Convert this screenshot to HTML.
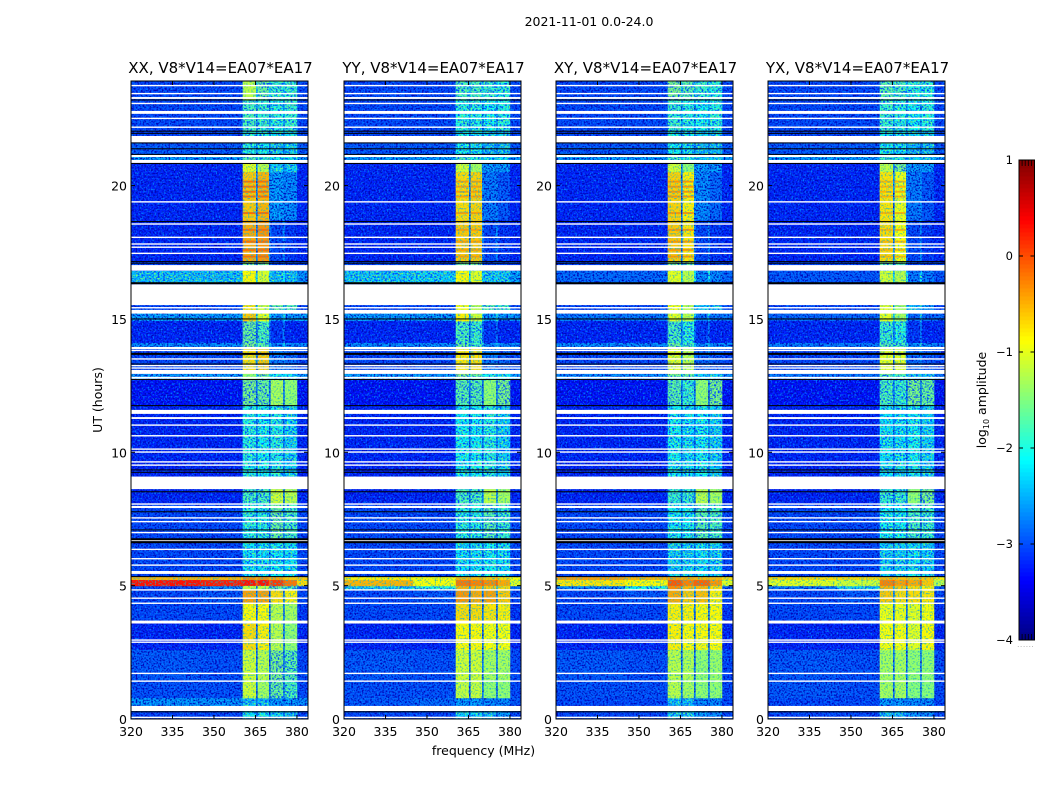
<!DOCTYPE html>
<html>
<head>
<meta charset="utf-8">
<title>2021-11-01 spectrogram panels</title>
<style>
html,body{margin:0;padding:0;background:#fff;}
svg{display:block;}
text{font-family:"DejaVu Sans","Liberation Sans",sans-serif;fill:#000;}
</style>
</head>
<body>
<svg id="figure" width="1050" height="800" viewBox="0 0 1050 800" xmlns="http://www.w3.org/2000/svg">
  <defs>
    <filter id="low-speckle" x="0" y="0" width="100%" height="100%" color-interpolation-filters="sRGB">
      <feTurbulence type="fractalNoise" baseFrequency="0.62 0.55" numOctaves="1" seed="7" result="n1"/>
      <feColorMatrix in="n1" type="matrix" values="0 0 0 0 0  0 0 0 0 0.5  0 0 0 0 1  4 0 0 0 -2.05" result="light"/>
      <feTurbulence type="fractalNoise" baseFrequency="0.58 0.6" numOctaves="1" seed="23" result="n2"/>
      <feColorMatrix in="n2" type="matrix" values="0 0 0 0 0  0 0 0 0 0.02  0 0 0 0 0.72  0 4 0 0 -1.75" result="dark"/>
      <feComposite in="light" in2="SourceAlpha" operator="in" result="lightIn"/>
      <feComposite in="dark" in2="SourceAlpha" operator="in" result="darkIn"/>
      <feMerge><feMergeNode in="SourceGraphic"/><feMergeNode in="darkIn"/><feMergeNode in="lightIn"/></feMerge>
    </filter>
    <filter id="mid-speckle" x="0" y="0" width="100%" height="100%" color-interpolation-filters="sRGB">
      <feTurbulence type="fractalNoise" baseFrequency="0.55 0.6" numOctaves="1" seed="31" result="n1"/>
      <feColorMatrix in="n1" type="matrix" values="0 0 0 0 0  0 0 0 0 0.3  0 0 0 0 1  4.5 0 0 0 -1.95" result="blue"/>
      <feColorMatrix in="n1" type="matrix" values="0 0 0 0 0.45  0 0 0 0 1  0 0 0 0 0.45  0 4 0 0 -2.0" result="green"/>
      <feComposite in="blue" in2="SourceAlpha" operator="in" result="blueIn"/>
      <feComposite in="green" in2="SourceAlpha" operator="in" result="greenIn"/>
      <feMerge><feMergeNode in="SourceGraphic"/><feMergeNode in="blueIn"/><feMergeNode in="greenIn"/></feMerge>
    </filter>
    <filter id="bright-speckle" x="0" y="0" width="100%" height="100%" color-interpolation-filters="sRGB">
      <feTurbulence type="fractalNoise" baseFrequency="0.6 0.6" numOctaves="1" seed="11" result="n1"/>
      <feColorMatrix in="n1" type="matrix" values="0 0 0 0 0.1  0 0 0 0 0.7  0 0 0 0 0.8  3 0 0 0 -1.45" result="cool"/>
      <feComposite in="cool" in2="SourceAlpha" operator="in" result="coolIn"/>
      <feMerge><feMergeNode in="SourceGraphic"/><feMergeNode in="coolIn"/></feMerge>
    </filter>
  </defs>
  <text x="589" y="26" font-size="12.5" text-anchor="middle">2021-11-01 0.0-24.0</text>
  <text x="483.5" y="755" font-size="12.5" text-anchor="middle">frequency (MHz)</text>
  <text transform="translate(102,400) rotate(-90)" font-size="12.5" text-anchor="middle">UT (hours)</text>
  <text transform="translate(986,400) rotate(-90)" font-size="12.5" text-anchor="middle">log<tspan font-size="8" dy="3">10</tspan><tspan dy="-3"> amplitude</tspan></text>
  <g id="panels"></g>
  <g id="colorbar"></g>
</svg>
<script>
// ---- Tick labels and categories ----
const panelTitles = ["XX, V8*V14=EA07*EA17", "YY, V8*V14=EA07*EA17", "XY, V8*V14=EA07*EA17", "YX, V8*V14=EA07*EA17"];
const freqTicks = [320, 335, 350, 365, 380];
const hourTicks = [0, 5, 10, 15, 20];
const colorTicks = [1, 0, -1, -2, -3, -4];

// ---- Frequency channel groups (MHz): bgL, bgR, A, gap, B, gap, C, gap, D, bgEnd ----
const freqEdges = [320, 345, 360.4, 365.1, 365.8, 369.8, 370.5, 374.9, 375.6, 380, 384];

// ---- Time blocks (UT hours, top to bottom) ----
const hourEdges = [23.93, 23.21, 22.05, 21.6, 21.15, 20.96, 20.51, 18.71, 17.14, 16.8, 16.35, 15.52, 15.22, 14.92, 14.1, 13.95, 13.84, 12.94, 12.71, 11.77, 9.07, 8.62, 8.06, 6.71, 5.32, 5.21, 4.99, 4.84, 4.35, 3.64, 2.59, 1.46, 0.79, 0.49, 0.3, 0];

// ---- log10 amplitude per block: [bgL, bgR, A, B, C, D, bgEnd] ----
const xxValues = [
[-3.0,-3.0,-1.2,-1.6,-1.9,-1.9,-3.0],[-3.0,-3.0,-1.8,-1.9,-2.0,-1.9,-3.0],[-3.0,-3.0,-2.0,-2.0,-2.2,-2.2,-3.0],[-2.9,-2.9,-2.0,-2.1,-2.3,-2.3,-2.9],
[-2.5,-2.5,-1.7,-1.9,-2.1,-2.1,-2.5],[-3.2,-3.2,-1.0,-1.2,-2.3,-2.3,-3.2],[-3.2,-3.2,-0.6,-0.5,-2.5,-2.6,-3.2],[-3.2,-3.2,-0.45,-0.35,-3.0,-3.1,-3.2],
[-3.0,-3.0,-1.5,-1.5,-3.0,-3.0,-3.0],[-2.4,-2.4,-0.85,-1.05,-2.4,-2.4,-2.55],[-3.0,-3.0,-3.0,-3.0,-3.0,-3.0,-3.0],[-3.0,-3.0,-0.75,-1.1,-1.6,-1.7,-3.0],
[-2.5,-2.5,-0.6,-1.0,-2.5,-2.5,-2.5],[-3.2,-3.2,-1.6,-1.8,-3.1,-3.2,-3.2],[-2.6,-2.6,-1.5,-1.7,-2.6,-2.6,-2.6],[-3.0,-3.0,-0.7,-0.6,-2.7,-2.8,-3.0],
[-3.0,-3.0,-0.7,-0.6,-2.7,-2.8,-3.0],[-2.5,-2.5,-1.4,-1.6,-2.1,-2.2,-2.5],[-3.3,-3.3,-1.5,-1.6,-1.3,-1.4,-3.3],[-3.2,-3.2,-2.0,-2.1,-2.0,-2.3,-3.2],
[-3.2,-3.2,-2.0,-2.0,-2.0,-2.0,-3.2],[-3.2,-3.2,-1.8,-1.8,-1.1,-1.2,-3.2],[-3.0,-3.0,-2.0,-2.0,-1.6,-1.8,-3.0],[-3.0,-3.0,-2.2,-2.2,-2.1,-2.2,-3.0],
[-0.5,-0.5,-0.3,-0.3,-0.4,-0.6,-0.6],[0.3,0.25,0.3,0.3,0.1,-0.2,-0.7],[-3.0,-2.6,-1.2,-1.2,-1.6,-1.8,-3.0],[-3.0,-2.9,-0.4,-0.4,-0.7,-0.8,-3.0],
[-3.0,-3.0,-0.85,-0.85,-1.2,-1.3,-3.1],[-3.2,-3.2,-0.7,-0.8,-1.2,-1.4,-3.2],[-2.9,-2.95,-1.1,-1.2,-1.5,-1.7,-3.0],[-2.95,-2.95,-1.1,-1.3,-1.6,-1.8,-3.0],
[-2.55,-2.55,-2.4,-2.4,-2.5,-2.5,-2.6],[-3.0,-3.0,-3.0,-3.0,-3.0,-3.0,-3.0],[-3.0,-3.0,-2.2,-2.2,-2.3,-2.4,-3.0]];
const yyValues = [
[-3.0,-3.0,-1.8,-1.8,-1.9,-2.0,-3.0],[-3.0,-3.0,-2.0,-2.0,-2.1,-2.0,-3.0],[-3.0,-3.0,-2.1,-2.1,-2.3,-2.3,-3.0],[-2.9,-2.9,-2.1,-2.2,-2.4,-2.4,-2.9],
[-2.5,-2.5,-1.8,-2.0,-2.2,-2.2,-2.5],[-3.2,-3.2,-1.1,-1.3,-2.5,-2.5,-3.2],[-3.2,-3.2,-0.7,-0.65,-2.7,-2.9,-3.2],[-3.2,-3.2,-0.6,-0.6,-3.0,-3.1,-3.2],
[-3.0,-3.0,-1.5,-1.5,-3.0,-3.0,-3.0],[-2.35,-2.3,-0.85,-1.0,-2.35,-2.35,-2.45],[-3.0,-3.0,-3.0,-3.0,-3.0,-3.0,-3.0],[-3.0,-3.0,-0.9,-1.2,-1.7,-1.8,-3.0],
[-2.5,-2.5,-0.8,-1.1,-2.5,-2.5,-2.5],[-3.2,-3.2,-1.8,-1.9,-3.1,-3.2,-3.2],[-2.6,-2.6,-1.6,-1.8,-2.6,-2.6,-2.6],[-3.0,-3.0,-0.75,-0.7,-2.7,-2.8,-3.0],
[-3.0,-3.0,-0.75,-0.7,-2.7,-2.8,-3.0],[-2.5,-2.5,-1.5,-1.7,-2.1,-2.2,-2.5],[-3.3,-3.3,-1.7,-1.7,-1.4,-1.5,-3.3],[-3.2,-3.2,-2.1,-2.1,-2.0,-2.3,-3.2],
[-3.2,-3.2,-2.0,-2.0,-2.0,-2.0,-3.2],[-3.2,-3.2,-1.8,-1.8,-1.2,-1.3,-3.2],[-3.0,-3.0,-2.0,-2.0,-1.7,-1.9,-3.0],[-3.0,-3.0,-2.2,-2.2,-2.1,-2.2,-3.0],
[-0.8,-0.9,-0.5,-0.5,-0.6,-0.7,-0.9],[-0.5,-0.9,-0.2,-0.25,-0.3,-0.45,-1.0],[-2.3,-2.0,-0.5,-0.5,-0.6,-0.7,-2.8],[-3.0,-2.9,-0.35,-0.45,-0.4,-0.6,-3.0],
[-3.0,-3.0,-0.7,-0.7,-0.75,-0.8,-3.1],[-3.2,-3.2,-0.85,-0.85,-0.9,-0.9,-3.2],[-2.9,-2.95,-1.1,-1.1,-1.3,-1.3,-3.0],[-2.95,-2.95,-1.15,-1.15,-1.4,-1.4,-3.0],
[-2.9,-2.8,-2.5,-2.5,-2.6,-2.6,-2.9],[-3.0,-3.0,-3.0,-3.0,-3.0,-3.0,-3.0],[-3.0,-3.0,-2.3,-2.3,-2.4,-2.5,-3.0]];
const xyValues = [
[-3.0,-3.0,-1.5,-1.7,-1.9,-2.0,-3.0],[-3.0,-3.0,-1.9,-2.0,-2.1,-2.0,-3.0],[-3.0,-3.0,-2.1,-2.1,-2.3,-2.3,-3.0],[-2.9,-2.9,-2.1,-2.2,-2.4,-2.4,-2.9],
[-2.5,-2.5,-1.8,-2.0,-2.3,-2.3,-2.5],[-3.2,-3.2,-1.1,-1.4,-2.5,-2.5,-3.2],[-3.2,-3.2,-0.65,-0.8,-2.6,-2.8,-3.2],[-3.2,-3.2,-0.6,-0.75,-3.0,-3.1,-3.2],
[-3.0,-3.0,-1.5,-1.6,-3.0,-3.0,-3.0],[-2.8,-2.8,-1.0,-1.2,-2.6,-2.6,-2.8],[-3.0,-3.0,-3.0,-3.0,-3.0,-3.0,-3.0],[-3.0,-3.0,-0.9,-1.2,-2.3,-2.4,-3.0],
[-2.7,-2.7,-1.0,-1.2,-2.7,-2.7,-2.7],[-3.2,-3.2,-1.8,-2.0,-3.1,-3.2,-3.2],[-2.6,-2.6,-1.6,-1.8,-2.6,-2.6,-2.6],[-3.0,-3.0,-1.0,-1.2,-2.8,-2.9,-3.0],
[-3.0,-3.0,-1.0,-1.2,-2.8,-2.9,-3.0],[-2.6,-2.6,-1.6,-1.7,-2.3,-2.3,-2.6],[-3.3,-3.3,-1.7,-1.9,-1.4,-1.5,-3.3],[-3.2,-3.2,-2.1,-2.2,-2.1,-2.3,-3.2],
[-3.2,-3.2,-2.0,-2.0,-2.0,-2.0,-3.2],[-3.2,-3.2,-1.9,-1.9,-1.2,-1.3,-3.2],[-3.0,-3.0,-2.1,-2.1,-1.7,-1.8,-3.0],[-3.0,-3.0,-2.3,-2.3,-2.2,-2.3,-3.0],
[-0.4,-0.5,-0.4,-0.45,-0.5,-0.5,-0.7],[-0.75,-0.85,-0.05,-0.25,-0.1,-0.35,-1.0],[-2.6,-2.1,-0.3,-0.5,-0.5,-0.7,-2.9],[-3.0,-2.9,-0.45,-0.6,-0.55,-0.8,-3.0],
[-3.0,-3.0,-0.8,-0.8,-0.85,-0.85,-3.1],[-3.2,-3.2,-0.8,-0.85,-0.85,-0.85,-3.2],[-2.9,-2.95,-1.2,-1.25,-1.4,-1.35,-3.0],[-2.95,-2.95,-1.2,-1.3,-1.4,-1.4,-3.0],
[-3.0,-3.0,-2.4,-2.4,-2.6,-2.6,-3.0],[-3.0,-3.0,-3.0,-3.0,-3.0,-3.0,-3.0],[-3.0,-3.0,-2.3,-2.3,-2.5,-2.6,-3.0]];
const yxValues = [
[-3.0,-3.0,-1.7,-1.8,-2.0,-2.0,-3.0],[-3.0,-3.0,-1.9,-2.0,-2.1,-2.0,-3.0],[-3.0,-3.0,-2.1,-2.1,-2.3,-2.3,-3.0],[-2.9,-2.9,-2.1,-2.2,-2.4,-2.4,-2.9],
[-2.5,-2.5,-1.8,-2.0,-2.3,-2.3,-2.5],[-3.2,-3.2,-1.2,-1.5,-2.5,-2.5,-3.2],[-3.2,-3.2,-0.75,-0.95,-2.7,-2.9,-3.2],[-3.2,-3.2,-0.7,-0.9,-3.0,-3.1,-3.2],
[-3.0,-3.0,-1.6,-1.7,-3.0,-3.0,-3.0],[-2.9,-2.9,-1.1,-1.2,-2.7,-2.7,-2.9],[-3.0,-3.0,-3.0,-3.0,-3.0,-3.0,-3.0],[-3.0,-3.0,-1.0,-1.3,-2.4,-2.5,-3.0],
[-2.8,-2.8,-1.0,-1.3,-2.8,-2.8,-2.8],[-3.2,-3.2,-1.9,-2.0,-3.1,-3.2,-3.2],[-2.7,-2.7,-1.7,-1.8,-2.6,-2.6,-2.7],[-3.0,-3.0,-1.0,-1.0,-2.8,-2.9,-3.0],
[-3.0,-3.0,-1.0,-1.0,-2.8,-2.9,-3.0],[-2.7,-2.7,-1.7,-1.8,-2.4,-2.4,-2.7],[-3.3,-3.3,-1.8,-1.9,-1.5,-1.6,-3.3],[-3.2,-3.2,-2.2,-2.2,-2.1,-2.3,-3.2],
[-3.2,-3.2,-2.0,-2.0,-2.0,-2.0,-3.2],[-3.2,-3.2,-1.9,-1.9,-1.4,-1.5,-3.2],[-3.0,-3.0,-2.1,-2.1,-1.8,-1.9,-3.0],[-3.0,-3.0,-2.3,-2.3,-2.2,-2.3,-3.0],
[-0.7,-0.7,-0.5,-0.55,-0.6,-0.6,-0.8],[-1.0,-1.1,-0.25,-0.4,-0.45,-0.6,-1.2],[-2.7,-2.3,-0.5,-0.6,-0.7,-0.8,-2.9],[-3.0,-2.9,-0.6,-0.7,-0.7,-0.75,-3.0],
[-3.0,-3.0,-0.95,-0.95,-1.0,-0.9,-3.1],[-3.2,-3.2,-0.9,-0.9,-1.0,-0.85,-3.2],[-2.9,-2.95,-1.3,-1.3,-1.4,-1.4,-3.0],[-2.9,-2.95,-1.3,-1.3,-1.45,-1.45,-3.0],
[-3.0,-3.0,-2.5,-2.5,-2.6,-2.6,-3.0],[-3.0,-3.0,-3.0,-3.0,-3.0,-3.0,-3.0],[-3.0,-3.0,-2.4,-2.4,-2.5,-2.6,-3.0]];
const panelValues = [xxValues, yyValues, xyValues, yxValues];

// ---- Level between the sub-bands, per time block ----
const gapLevels = [-2.4,-2.5,-2.6,-2.6,-2.4,-2.6,-2.6,-2.6,-2.8,-2.2,-3,-2.4,-2.3,-2.7,-2.4,-2.6,-2.6,-2.3,-2.7,-2.7,-2.7,-2.6,-2.6,-2.6,-0.5,-0.1,-2.4,-2.6,-2.7,-2.7,-2.7,-2.7,-2.7,-3,-2.7];

// ---- Brighter stripes across the two low sub-bands (UT hours) and their peak level per panel ----
const stripeHours = [20.15, 19.96, 19.77, 19.59, 18.97, 18.34, 17.9, 17.59, 17.34];
const stripeLevels = [-0.15, -0.4, -0.35, -0.5];

// ---- Flagged (blank) and dropped (black) times, UT hours ----
const whiteRanges = [[23.32,23.25],[22.8,22.69],[21.86,21.62],[21.15,21.07],[20.96,20.85],[17.02,16.81],[16.3,15.52],[15.34,15.2],[13.95,13.87],[13.09,12.94],[12.83,12.76],[11.59,11.44],[11.32,11.25],[9.09,8.62],[7.99,7.91],[5.55,5.44],[3.69,3.58],[0.49,0.3]];
const whiteLines = [23.75,23.45,23.08,22.52,22.19,19.39,18.56,18.06,17.81,17.69,17.46,15.42,13.82,13.5,13.25,13.16,11.02,10.62,10.12,10.01,9.64,9.52,8.06,7.54,7.4,6.99,6.69,6.36,6.01,5.77,4.84,4.53,4.34,2.96,2.88,1.71,1.42,0.06];
const blackLines = [23.21,22.04,21.96,21.6,21.38,21.17,20.83,18.65,17.15,17.09,15.0,13.31,12.73,11.75,9.34,9.25,8.52,7.77,7.09,5.34,0.27];
const blackThickLines = [16.34,13.69,6.74,6.63];

// ---- Axis geometry ----
const panelLefts = [131, 344, 556, 768];
const panelWidth = 177;
const axisTop = 81;
const axisBottom = 719;
const freqMin = 320, freqMax = 384;
const hourScale = 26.67;
const colorMin = -4, colorMax = 1;
const midThreshold = -2.45;
const brightThreshold = -1.5;
const cbLeft = 1019, cbRight = 1034.5, cbTop = 160, cbBottom = 640;

const NS = "http://www.w3.org/2000/svg";
function mk(tag, attrs, parent) {
  const el = document.createElementNS(NS, tag);
  for (const k in attrs) el.setAttribute(k, attrs[k]);
  parent.appendChild(el);
  return el;
}
function xScale(left, f) { return left + (f - freqMin) / (freqMax - freqMin) * panelWidth; }
function yScale(h) { return axisBottom - h * hourScale; }
function clip01(v) { return Math.max(0, Math.min(1, v)); }
function jet(level) {
  const t = clip01((level - colorMin) / (colorMax - colorMin));
  const r = clip01(1.5 - Math.abs(4 * t - 3));
  const g = clip01(1.5 - Math.abs(4 * t - 2));
  const b = clip01(1.5 - Math.abs(4 * t - 1));
  return "rgb(" + Math.round(r * 255) + "," + Math.round(g * 255) + "," + Math.round(b * 255) + ")";
}

const panelsRoot = document.getElementById("panels");
const defs = document.querySelector("defs");

panelTitles.forEach(function (title, p) {
  const left = panelLefts[p];
  const right = left + panelWidth;
  const group = mk("g", {}, panelsRoot);
  
  

  const clip = mk("clipPath", { id: "clip-" + p }, defs);
  mk("rect", { x: left, y: axisTop, width: panelWidth, height: axisBottom - axisTop }, clip);

  const plot = mk("g", { "clip-path": "url(#clip-" + p + ")" }, group);
  
  
  const lowLayer = mk("g", { filter: "url(#low-speckle)" }, plot);
  
  
  const midLayer = mk("g", { filter: "url(#mid-speckle)" }, plot);
  
  
  const brightLayer = mk("g", { filter: "url(#bright-speckle)" }, plot);
  
  

  const rows = panelValues[p];
  rows.forEach(function (row, r) {
    const yTop = yScale(hourEdges[r]);
    const yBot = yScale(hourEdges[r + 1]);
    const gap = gapLevels[r];
    const cols = [row[0], row[1], row[2], gap, row[3], gap, row[4], gap, row[5], row[6]];
    cols.forEach(function (level, c) {
      const x0 = xScale(left, freqEdges[c]);
      const x1 = xScale(left, freqEdges[c + 1]);
      const layer = level > brightThreshold ? brightLayer : (level > midThreshold ? midLayer : lowLayer);
      const cell = mk("rect", { x: x0, y: yTop, width: x1 - x0 + 0.3, height: yBot - yTop + 0.3, fill: jet(level) }, layer);
      
      
    });
  });

  stripeHours.forEach(function (h) {
    const y = yScale(h);
    [[2, 3], [4, 5]].forEach(function (span) {
      const x0 = xScale(left, freqEdges[span[0]]);
      const x1 = xScale(left, freqEdges[span[1]]);
      const stripe = mk("rect", { x: x0, y: y - 1, width: x1 - x0, height: 2, fill: jet(stripeLevels[p]) }, brightLayer);
      
      
    });
  });

  whiteRanges.forEach(function (range) {
    const y0 = yScale(range[0]);
    const y1 = yScale(range[1]);
    const band = mk("rect", { x: left, y: y0, width: panelWidth, height: y1 - y0, fill: "#fff" }, plot);
    
    
  });
  whiteLines.forEach(function (h) {
    const line = mk("rect", { x: left, y: yScale(h) - 0.7, width: panelWidth, height: 1.4, fill: "#fff" }, plot);
    
    
  });
  blackLines.forEach(function (h) {
    const line = mk("rect", { x: left, y: yScale(h) - 0.5, width: panelWidth, height: 1, fill: "#000" }, plot);
    
    
  });
  blackThickLines.forEach(function (h) {
    const line = mk("rect", { x: left, y: yScale(h) - 1, width: panelWidth, height: 2, fill: "#000" }, plot);
    
    
  });

  const frame = mk("rect", { x: left, y: axisTop, width: panelWidth, height: axisBottom - axisTop, fill: "none", stroke: "#000", "stroke-width": 1 }, group);
  
  

  const titleEl = mk("text", { x: left + panelWidth / 2 + 1, y: 73, "font-size": 15, "text-anchor": "middle" }, group);
  titleEl.textContent = title;
  
  

  freqTicks.forEach(function (f) {
    const x = xScale(left, f);
    const bottomTick = mk("line", { x1: x, x2: x, y1: axisBottom, y2: axisBottom - 4, stroke: "#000", "stroke-width": 1 }, group);
    
    
    const topTick = mk("line", { x1: x, x2: x, y1: axisTop, y2: axisTop + 4, stroke: "#000", "stroke-width": 1 }, group);
    
    
    const label = mk("text", { x: x, y: 736, "font-size": 12.5, "text-anchor": "middle" }, group);
    label.textContent = String(f);
    
    
  });

  hourTicks.forEach(function (h) {
    const y = yScale(h);
    const leftTick = mk("line", { x1: left, x2: left + 4, y1: y, y2: y, stroke: "#000", "stroke-width": 1 }, group);
    
    
    const rightTick = mk("line", { x1: right, x2: right - 4, y1: y, y2: y, stroke: "#000", "stroke-width": 1 }, group);
    
    
    const label = mk("text", { x: left - 4, y: y + 5, "font-size": 12.5, "text-anchor": "end" }, group);
    label.textContent = String(h);
    
    
  });
});

// ---- Colorbar ----
const cbRoot = document.getElementById("colorbar");
function cbY(level) { return cbBottom - (level - colorMin) / (colorMax - colorMin) * (cbBottom - cbTop); }
const cbSteps = 120;
for (let i = 0; i < cbSteps; i++) {
  const lo = colorMin + (colorMax - colorMin) * i / cbSteps;
  const hi = colorMin + (colorMax - colorMin) * (i + 1) / cbSteps;
  const seg = mk("rect", { x: cbLeft, y: cbY(hi), width: cbRight - cbLeft, height: cbY(lo) - cbY(hi) + 0.4, fill: jet((lo + hi) / 2) }, cbRoot);
  
  
}
const cbFrame = mk("rect", { x: cbLeft, y: cbTop, width: cbRight - cbLeft, height: cbBottom - cbTop, fill: "none", stroke: "#000", "stroke-width": 1 }, cbRoot);


colorTicks.forEach(function (level) {
  const y = cbY(level);
  const tickL = mk("line", { x1: cbLeft, x2: cbLeft + 4, y1: y, y2: y, stroke: "#000", "stroke-width": 1 }, cbRoot);
  
  
  const tickR = mk("line", { x1: cbRight, x2: cbRight - 4, y1: y, y2: y, stroke: "#000", "stroke-width": 1 }, cbRoot);
  
  
  const label = mk("text", { x: 1013, y: y + 4, "font-size": 11.5, "text-anchor": "end" }, cbRoot);
  label.textContent = level < 0 ? "\u2212" + Math.abs(level) : String(level);
  
  
});
const cbMinorPositions = [1, 2, 3, 4];
cbMinorPositions.forEach(function (n) {
  const x = cbLeft + (cbRight - cbLeft) * n / 5;
  const top = mk("line", { x1: x, x2: x, y1: cbTop, y2: cbTop + 6, stroke: "#000", "stroke-width": 0.8 }, cbRoot);
  
  
  const bottom = mk("line", { x1: x, x2: x, y1: cbBottom, y2: cbBottom - 6, stroke: "#000", "stroke-width": 0.8 }, cbRoot);
  
  
});
const dots = mk("text", { x: 1026, y: 647, "font-size": 6, "text-anchor": "middle", style: "fill:#777;letter-spacing:1px" }, cbRoot);
dots.textContent = "......";


</script>
</body>
</html>
